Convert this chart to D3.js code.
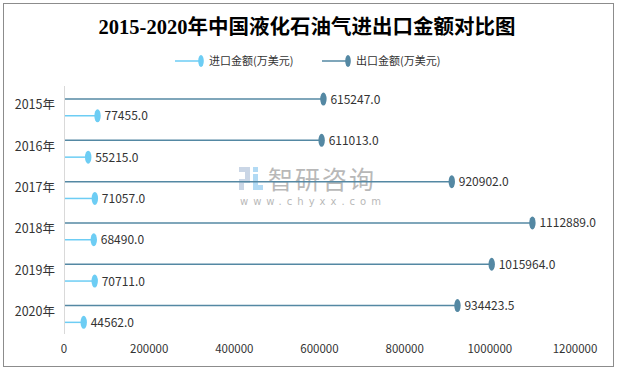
<!DOCTYPE html>
<html>
<head>
<meta charset="utf-8">
<script src="https://cdn.jsdelivr.net/npm/d3@7/dist/d3.min.js"></script>
<style>
  body { margin: 0; background: #fff; }
  svg { display: block; }
</style>
</head>
<body>
<div id="chart"></div>
<script>
// data
const years = ["2015年", "2016年", "2017年", "2018年", "2019年", "2020年"];
const importValues = [77455, 55215, 71057, 68490, 70711, 44562];
const exportValues = [615247, 611013, 920902, 1112889, 1015964, 934423.5];
const xTicks = [0, 200000, 400000, 600000, 800000, 1000000, 1200000];
const seriesNames = ["进口金额(万美元)", "出口金额(万美元)"];

const W = 617, H = 371;
const importColor = "#6dcdf4";
const exportColor = "#5488a3";
const fontCN = "'Microsoft YaHei', 'Noto Sans CJK SC', 'DejaVu Sans', sans-serif";

const svg = d3.select("#chart").append("svg")
    .attr("width", W)
    .attr("height", H);

// outer frame
svg.append("rect")
    .attr("x", 3.5).attr("y", 3.5)
    .attr("width", 610).attr("height", 363)
    .attr("fill", "#fff")
    .attr("stroke", "#8c8c8c")
    .attr("stroke-width", 1);

// title
svg.append("text")
    .attr("x", 307).attr("y", 34)
    .attr("text-anchor", "middle")
    .style("font-family", "'Liberation Serif', 'Noto Sans CJK SC', serif")
    .style("font-size", "20.5px")
    .style("font-weight", "bold")
    .attr("fill", "#000")
    .text("2015-2020年中国液化石油气进出口金额对比图");

// scales (marks sit a bit inside the tick labels, like the original)
const xScale = d3.scaleLinear()
    .domain([0, 1200000])
    .range([65, 569]);

const tickScale = d3.scaleLinear()
    .domain([0, 1200000])
    .range([64, 575]);

const yScale = d3.scaleBand()
    .domain(years)
    .range([86.8, 334.6]);

const half = 8.4;

// watermark
const wm = svg.append("g").attr("opacity", 0.6);
wm.append("rect").attr("x", 239).attr("y", 167).attr("width", 11).attr("height", 5).attr("fill", "#a7bbd6");
wm.append("rect").attr("x", 245).attr("y", 172).attr("width", 5).attr("height", 7).attr("fill", "#a7bbd6");
wm.append("rect").attr("x", 239).attr("y", 179).attr("width", 11).attr("height", 4).attr("fill", "#a7bbd6");
wm.append("rect").attr("x", 239).attr("y", 183).attr("width", 5).attr("height", 7).attr("fill", "#a7bbd6");
wm.append("rect").attr("x", 253).attr("y", 167).attr("width", 5).attr("height", 5).attr("fill", "#7fc2ee");
wm.append("rect").attr("x", 253).attr("y", 174).attr("width", 5).attr("height", 16).attr("fill", "#7fc2ee");
wm.append("rect").attr("x", 258).attr("y", 185).attr("width", 5).attr("height", 5).attr("fill", "#7fc2ee");
wm.append("text")
    .attr("x", 268).attr("y", 189)
    .style("font-family", fontCN)
    .style("font-size", "25px")
    .style("letter-spacing", "2px")
    .attr("fill", "#8a8a8a")
    .text("智研咨询");
wm.append("text")
    .attr("x", 240).attr("y", 205)
    .style("font-family", "'DejaVu Sans', sans-serif")
    .style("font-size", "10px")
    .style("letter-spacing", "5px")
    .attr("fill", "#8a8a8a")
    .text("www.chyxx.com");

// y axis line
svg.append("line")
    .attr("x1", 64.5).attr("x2", 64.5)
    .attr("y1", 86).attr("y2", 334)
    .attr("stroke", "#d9d9d9")
    .attr("stroke-width", 1);

// x axis labels
svg.append("g")
    .selectAll("text")
    .data(xTicks)
    .enter().append("text")
    .attr("x", d => tickScale(d))
    .attr("y", 353)
    .attr("text-anchor", "middle")
    .style("font-family", fontCN)
    .style("font-size", "11.5px")
    .attr("fill", "#333")
    .text(d => d);

// category labels
svg.append("g")
    .selectAll("text")
    .data(years)
    .enter().append("text")
    .attr("x", 55)
    .attr("y", d => yScale(d) + yScale.bandwidth() / 2 + 2)
    .attr("text-anchor", "end")
    .style("font-family", fontCN)
    .style("font-size", "12.5px")
    .attr("fill", "#333")
    .text(d => d);

function drawSeries(values, offset, color) {
    const g = svg.append("g");
    const rows = years.map((y, i) => ({ year: y, value: values[i] }));
    const cy = d => yScale(d.year) + yScale.bandwidth() / 2 + offset;

    g.selectAll("line")
        .data(rows)
        .enter().append("line")
        .attr("x1", xScale(0))
        .attr("x2", d => xScale(d.value))
        .attr("y1", cy)
        .attr("y2", cy)
        .attr("stroke", color)
        .attr("stroke-width", 1.5);

    g.selectAll("ellipse")
        .data(rows)
        .enter().append("ellipse")
        .attr("cx", d => xScale(d.value))
        .attr("cy", cy)
        .attr("rx", 3.2)
        .attr("ry", 6.5)
        .attr("fill", color);

    g.selectAll("text")
        .data(rows)
        .enter().append("text")
        .attr("x", d => xScale(d.value) + 7)
        .attr("y", d => cy(d) + 4.5)
        .style("font-family", fontCN)
        .style("font-size", "12px")
        .attr("fill", "#333")
        .text(d => d.value.toFixed(1));
}

drawSeries(exportValues, -half, exportColor);
drawSeries(importValues, half, importColor);

// legend
const legend = svg.append("g");
const legendItems = [
    { name: seriesNames[0], color: importColor, x: 175 },
    { name: seriesNames[1], color: exportColor, x: 322 }
];
legendItems.forEach(item => {
    legend.append("line")
        .attr("x1", item.x).attr("x2", item.x + 25)
        .attr("y1", 61).attr("y2", 61)
        .attr("stroke", item.color)
        .attr("stroke-width", 1.5);
    legend.append("ellipse")
        .attr("cx", item.x + 26).attr("cy", 61)
        .attr("rx", 2.8).attr("ry", 6)
        .attr("fill", item.color);
    legend.append("text")
        .attr("x", item.x + 34).attr("y", 65)
        .style("font-family", fontCN)
        .style("font-size", "11px")
        .attr("fill", "#333")
        .text(item.name);
});
</script>
</body>
</html>
